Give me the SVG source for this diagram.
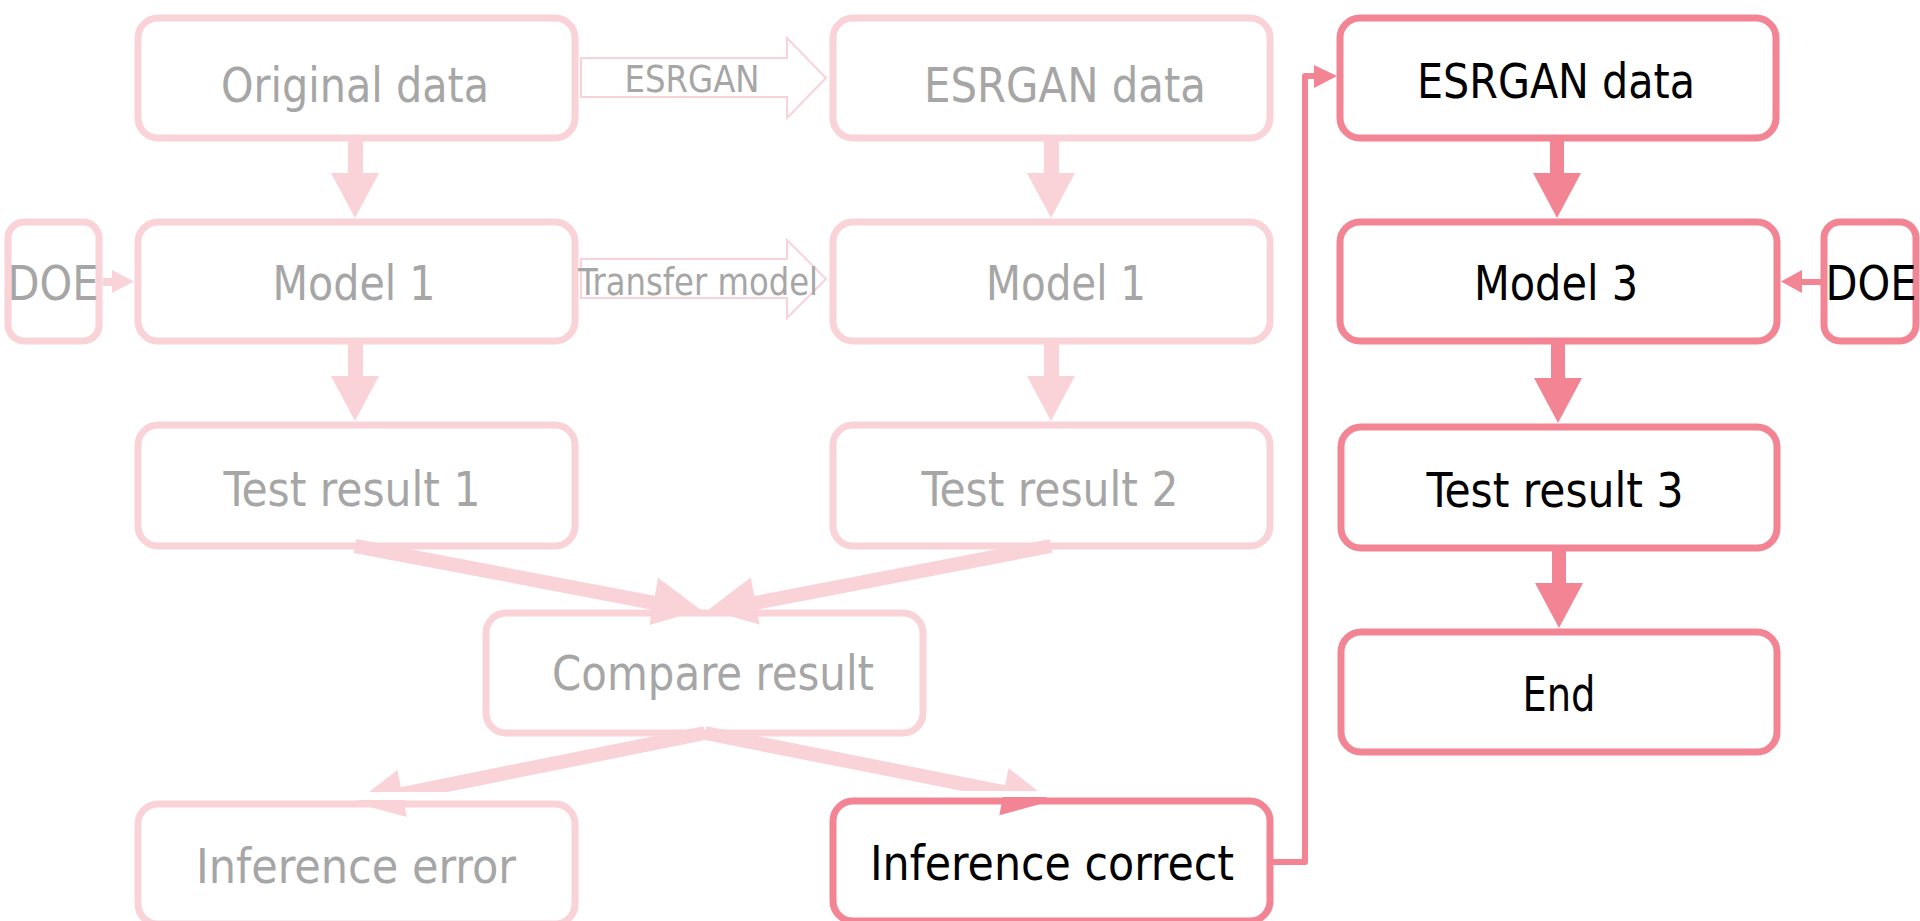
<svg xmlns="http://www.w3.org/2000/svg" width="1920" height="921" viewBox="0 0 1920 921">
<style>
  .lb{fill:#fff;stroke:#F9D3D8;stroke-width:7}
  .db{fill:#fff;stroke:#F38493;stroke-width:7}
  .t{font-family:"DejaVu Sans Condensed","DejaVu Sans",sans-serif;font-size:48px;text-anchor:middle}
  .g{fill:#A6A6A6}
  .k{fill:#000}
  .sm{font-size:37px}
  .lf{fill:#F9D3D8}
  .df{fill:#F38493}
  .ls{stroke:#F9D3D8;fill:none}
  .ds{stroke:#F38493;fill:none}
  .hollow{fill:#fff;stroke:#F9D3D8;stroke-width:2}
</style>
<defs>
  <clipPath id="errClip"><rect x="0" y="0" width="1920" height="792"/><rect x="0" y="800" width="1920" height="121"/></clipPath>
  <clipPath id="corTop"><rect x="0" y="0" width="1920" height="791"/></clipPath>
  <clipPath id="corBot"><rect x="0" y="797" width="1920" height="124"/></clipPath>
</defs>
<rect width="1920" height="921" fill="#fff"/>

<g id="original-data"><rect class="lb" x="138" y="18" width="437" height="120" rx="20"/><text class="t g" x="355" y="102" textLength="268" lengthAdjust="spacingAndGlyphs">Original data</text></g>
<g id="model1-left"><rect class="lb" x="138" y="222" width="437" height="119" rx="20"/><text class="t g" x="354" y="300" textLength="163" lengthAdjust="spacingAndGlyphs">Model 1</text></g>
<g id="doe-left"><rect class="lb" x="8" y="222" width="91" height="119" rx="16"/><text class="t g" x="53" y="300" textLength="91" lengthAdjust="spacingAndGlyphs">DOE</text></g>
<g id="test-result-1"><rect class="lb" x="138" y="425" width="437" height="121" rx="20"/><text class="t g" x="352" y="506" textLength="257" lengthAdjust="spacingAndGlyphs">Test result 1</text></g>

<g id="esrgan-data-mid"><rect class="lb" x="833" y="18" width="437" height="120" rx="20"/><text class="t g" x="1065" y="102" textLength="282" lengthAdjust="spacingAndGlyphs">ESRGAN data</text></g>
<g id="model1-mid"><rect class="lb" x="833" y="222" width="437" height="119" rx="20"/><text class="t g" x="1066" y="300" textLength="160" lengthAdjust="spacingAndGlyphs">Model 1</text></g>
<g id="test-result-2"><rect class="lb" x="833" y="425" width="437" height="121" rx="20"/><text class="t g" x="1050" y="506" textLength="257" lengthAdjust="spacingAndGlyphs">Test result 2</text></g>

<g id="compare-result"><rect class="lb" x="486" y="613" width="437" height="120" rx="20"/><text class="t g" x="713" y="690" textLength="322" lengthAdjust="spacingAndGlyphs">Compare result</text></g>
<g id="inference-error"><rect class="lb" x="138" y="804" width="437" height="120" rx="20"/><text class="t g" x="356" y="883" textLength="320" lengthAdjust="spacingAndGlyphs">Inference error</text></g>
<g id="inference-correct"><rect class="db" x="833" y="801" width="437" height="120" rx="20"/><text class="t k" x="1052" y="880" textLength="364" lengthAdjust="spacingAndGlyphs">Inference correct</text></g>

<g id="esrgan-data-right"><rect class="db" x="1340" y="18" width="436" height="120" rx="20"/><text class="t k" x="1556" y="98" textLength="278" lengthAdjust="spacingAndGlyphs">ESRGAN data</text></g>
<g id="model3"><rect class="db" x="1340" y="222" width="437" height="119" rx="20"/><text class="t k" x="1556" y="300" textLength="164" lengthAdjust="spacingAndGlyphs">Model 3</text></g>
<g id="doe-right"><rect class="db" x="1824" y="222" width="92" height="119" rx="16"/><text class="t k" x="1871" y="300" textLength="91" lengthAdjust="spacingAndGlyphs">DOE</text></g>
<g id="test-result-3"><rect class="db" x="1341" y="427" width="436" height="121" rx="20"/><text class="t k" x="1555" y="507" textLength="257" lengthAdjust="spacingAndGlyphs">Test result 3</text></g>
<g id="end"><rect class="db" x="1341" y="632" width="436" height="120" rx="20"/><text class="t k" x="1559" y="711" textLength="73" lengthAdjust="spacingAndGlyphs">End</text></g>

<g id="connectors">
  <!-- hollow block arrows -->
  <path class="hollow" d="M581,58 H787 V38 L826,78 L787,118 V97 H581 Z"/>
  <text class="t g sm" x="692" y="92" textLength="135" lengthAdjust="spacingAndGlyphs">ESRGAN</text>
  <path class="hollow" d="M581,259 H787 V240 L826,279 L787,318 V298 H581 Z"/>
  <text class="t g sm" x="698" y="295" textLength="240" lengthAdjust="spacingAndGlyphs">Transfer model</text>

  <!-- vertical light arrows -->
  <path class="lf" d="M348,138 H363 V173 H379 L355,218 L331,173 H348 Z"/>
  <path class="lf" d="M348,341 H363 V376 H379 L355,421 L331,376 H348 Z"/>
  <path class="lf" d="M1044,138 H1059 V173 H1075 L1051,218 L1027,173 H1044 Z"/>
  <path class="lf" d="M1044,341 H1059 V376 H1075 L1051,421 L1027,376 H1044 Z"/>

  <!-- DOE left arrow -->
  <path class="lf" d="M103,278 H112 V270 L134,281.5 L112,293 V286 H103 Z"/>

  <!-- diagonal light arrows into Compare result -->
  <line class="ls" stroke-width="14" x1="355" y1="546" x2="660" y2="604"/>
  <polygon class="lf" points="701,610 658.1,577.7 649.5,624.9"/>
  <line class="ls" stroke-width="14" x1="1051" y1="546" x2="750" y2="604"/>
  <polygon class="lf" points="708,610 750.7,577.4 759.7,624.6"/>

  <!-- Compare result to Inference error -->
  <g clip-path="url(#errClip)">
    <line class="ls" stroke-width="14" x1="705" y1="733" x2="397" y2="795"/>
    <polygon class="lf" points="355,803 397.4,770.1 406.8,817.1"/>
  </g>

  <!-- Compare result to Inference correct -->
  <g clip-path="url(#corTop)">
    <line class="ls" stroke-width="14" x1="705" y1="733" x2="1009" y2="793"/>
    <polygon class="lf" points="1051,801 1008.5,768.2 999.3,815.3"/>
  </g>
  <polygon class="df" clip-path="url(#corBot)" points="1051,801 1008.5,768.2 999.3,815.3"/>

  <!-- dark vertical arrows -->
  <path class="df" d="M1550,138 H1564 V173 H1581 L1557,218 L1533,173 H1550 Z"/>
  <path class="df" d="M1551,341 H1565 V378 H1582 L1558,423 L1534,378 H1551 Z"/>
  <path class="df" d="M1552,548 H1566 V583 H1583 L1559,628 L1535,583 H1552 Z"/>

  <!-- DOE right arrow -->
  <path class="df" d="M1821,279 H1802 V270 L1781,281.5 L1802,293 V285 H1821 Z"/>

  <!-- loop connector -->
  <path class="ds" stroke-width="6" stroke-linejoin="round" d="M1272,862 H1305 V76 H1316"/>
  <polygon class="df" points="1314,65 1337,76 1314,88"/>
</g>
</svg>
